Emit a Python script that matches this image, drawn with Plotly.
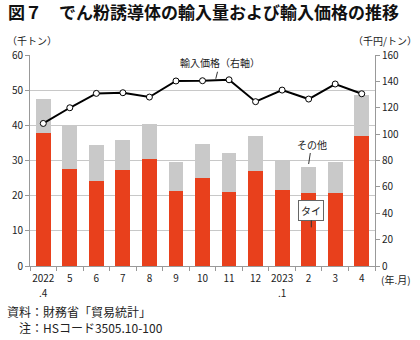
import plotly.graph_objects as go

categories = ["2022", "5", "6", "7", "8", "9", "10", "11", "12", "2023", "2", "3", "4"]
year_months = {"2022": ".4", "2023": ".1"}  # second line under year labels
thai = [37.8, 27.6, 24.1, 27.4, 30.5, 21.2, 24.9, 21.0, 27.0, 21.7, 20.7, 20.7, 36.9]
total = [47.6, 39.9, 34.5, 35.9, 40.5, 29.5, 34.7, 32.1, 37.0, 29.9, 28.1, 29.5, 48.5]
other = [round(t - a, 1) for t, a in zip(total, thai)]
price = [108.1, 120.0, 130.9, 131.4, 128.1, 140.3, 140.5, 141.2, 124.6, 133.4, 126.6, 138.0, 130.6]

FONT = "Noto Sans CJK JP"
RED = "#E8401C"
GRAY = "#C9C9C9"

fig = go.Figure()
fig.add_trace(go.Bar(x=categories, y=thai, name="タイ", marker=dict(color=RED, line=dict(width=0)),
                     width=0.56))
fig.add_trace(go.Bar(x=categories, y=other, name="その他", marker=dict(color=GRAY, line=dict(width=0)),
                     width=0.56))
fig.add_trace(go.Scatter(x=categories, y=price, name="輸入価格（右軸）", yaxis="y2", mode="lines+markers",
                         line=dict(color="black", width=2),
                         marker=dict(symbol="circle", size=6, color="white",
                                     line=dict(color="black", width=1))))

fig.update_layout(
    width=420, height=340,
    margin=dict(l=25, r=45, t=55, b=74),
    paper_bgcolor="white", plot_bgcolor="white",
    barmode="stack", bargap=0.44,
    showlegend=False,
    font=dict(family=FONT, size=10, color="#222"),
    xaxis=dict(type="category", tickson="boundaries", ticks="outside", ticklen=4,
               tickcolor="#999", showline=True, linecolor="#999", linewidth=1,
               range=[-0.5, len(categories) - 0.5],
               tickfont=dict(size=10), tickangle=0, showgrid=False, ticklabelstandoff=3),
    yaxis=dict(range=[0, 60], dtick=10, ticks="outside", ticklen=4, tickcolor="#999",
               showline=True, linecolor="#999", showgrid=True, gridcolor="#C8C8C8",
               gridwidth=1, zeroline=False, tickfont=dict(size=10)),
    yaxis2=dict(range=[0, 160], dtick=20, overlaying="y", side="right", ticks="outside",
                ticklen=4, tickcolor="#999", showline=True, linecolor="#999",
                showgrid=False, zeroline=False, tickfont=dict(size=10)),
)

annotations = [
    dict(text="<b>図７　でん粉誘導体の輸入量および輸入価格の推移</b>", xref="paper", yref="paper",
         x=-24/350, y=1 + 44/211, xanchor="left", yanchor="middle", showarrow=False,
         font=dict(size=17, family=FONT, color="#111")),
    dict(text="（千トン）", xref="paper", yref="paper", x=-25/350, y=1 + 15/211,
         xanchor="left", yanchor="middle", showarrow=False, font=dict(size=10)),
    dict(text="（千円/トン）", xref="paper", yref="paper", x=1 + 45/350, y=1 + 15/211,
         xanchor="right", yanchor="middle", showarrow=False, font=dict(size=10)),
    dict(text="(年.月)", xref="paper", yref="paper", x=1 + 4/350, y=-13/211,
         xanchor="left", yanchor="middle", showarrow=False, font=dict(size=10)),
    dict(text="資料：財務省「貿易統計」", xref="paper", yref="paper", x=-25/350, y=-45/211,
         xanchor="left", yanchor="middle", showarrow=False, font=dict(size=12)),
    dict(text="　注：HSコード3505.10-100", xref="paper", yref="paper", x=-25/350, y=-61/211,
         xanchor="left", yanchor="middle", showarrow=False, font=dict(size=12)),
    # series labels with leader lines
    dict(text="輸入価格（右軸）", x=6.5, y=142, xref="x", yref="y2", ax=4, ay=-16,
         showarrow=True, arrowhead=0, arrowwidth=1,
         arrowcolor="#333", standoff=0, font=dict(size=10)),
    dict(text="その他", x=10, y=29.0, xref="x", yref="y", ax=3, ay=-20,
         showarrow=True, arrowhead=0, arrowwidth=1, arrowcolor="#333", font=dict(size=10)),
    dict(text="タイ", x=10.1, y=11.0, xref="x", yref="y", ax=0, ay=-17,
         showarrow=True, arrowhead=0, arrowwidth=1, arrowcolor="#333", font=dict(size=10),
         bgcolor="white", bordercolor="#666", borderwidth=1, borderpad=2),
]
for cat, sub in year_months.items():
    annotations.append(dict(text=sub, x=categories.index(cat), xref="x", yref="paper", y=-26/211,
                            xanchor="center", yanchor="middle", showarrow=False,
                            font=dict(size=10)))
fig.update_layout(annotations=annotations)

fig.write_html("out.html")
